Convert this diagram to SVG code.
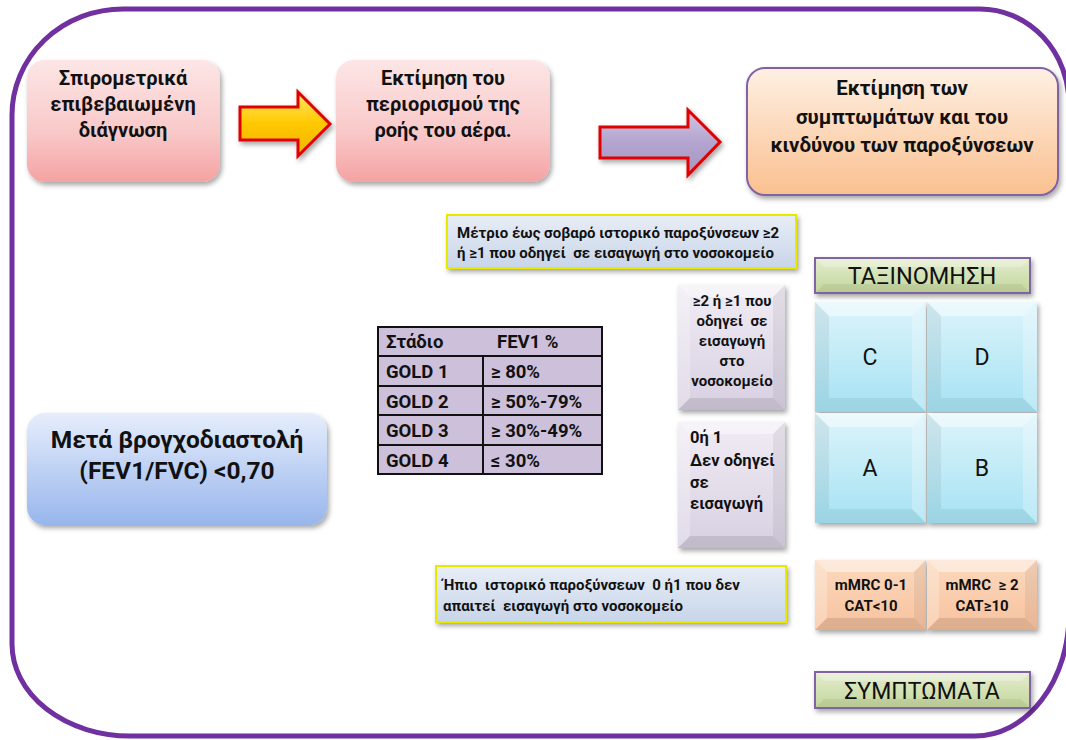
<svg xmlns="http://www.w3.org/2000/svg" width="1066" height="740" viewBox="0 0 1066 740">
<defs>
<style>
.t{font-family:Roboto,"Noto Sans","DejaVu Sans",sans-serif;fill:#111;white-space:pre}
.b{font-weight:bold}
.c{text-anchor:middle}
.lt{fill:#fff;opacity:.45}
.lt2{fill:#fff;opacity:.25}
.dk{fill:#000;opacity:.06}
.dk2{fill:#000;opacity:.1}
.cell{fill:#CCC0DA;stroke:#111;stroke-width:2}
</style>
<filter id="sh" x="-10%" y="-10%" width="125%" height="130%"><feDropShadow dx="2" dy="3" stdDeviation="2.5" flood-color="#000" flood-opacity="0.35"/></filter>
<linearGradient id="gPink" x1="0" y1="0" x2="0" y2="1"><stop offset="0" stop-color="#FDE6E6"/><stop offset="0.6" stop-color="#F9C8C8"/><stop offset="1" stop-color="#F5A2A2"/></linearGradient>
<linearGradient id="gPeach" x1="0" y1="0" x2="0" y2="1"><stop offset="0" stop-color="#FEF0E4"/><stop offset="1" stop-color="#FAC08F"/></linearGradient>
<linearGradient id="gBlue" x1="0" y1="0" x2="0" y2="1"><stop offset="0" stop-color="#E6EEFC"/><stop offset="1" stop-color="#98B6EC"/></linearGradient>
<linearGradient id="gInfo" x1="0" y1="0" x2="0" y2="1"><stop offset="0" stop-color="#E8EEF6"/><stop offset="1" stop-color="#C8D5E9"/></linearGradient>
<linearGradient id="gLav" x1="0" y1="0" x2="0" y2="1"><stop offset="0" stop-color="#F0ECF4"/><stop offset="1" stop-color="#D8D0E2"/></linearGradient>
<linearGradient id="gCyan" x1="0" y1="0" x2="0" y2="1"><stop offset="0" stop-color="#DDF4FB"/><stop offset="1" stop-color="#A6E2F2"/></linearGradient>
<linearGradient id="gGreen" x1="0" y1="0" x2="0" y2="1"><stop offset="0" stop-color="#E4EDCF"/><stop offset="1" stop-color="#C3D69B"/></linearGradient>
<linearGradient id="gSalmon" x1="0" y1="0" x2="0" y2="1"><stop offset="0" stop-color="#FBD9BE"/><stop offset="1" stop-color="#F8C29E"/></linearGradient>
<linearGradient id="gYel" x1="0" y1="0" x2="0" y2="1"><stop offset="0" stop-color="#FFE866"/><stop offset="0.5" stop-color="#FFC800"/><stop offset="1" stop-color="#F2B200"/></linearGradient>
<linearGradient id="gArrLav" x1="0" y1="0" x2="0" y2="1"><stop offset="0" stop-color="#CFC6E2"/><stop offset="0.5" stop-color="#B3A5CF"/><stop offset="1" stop-color="#A595C2"/></linearGradient>
</defs>
<rect width="1066" height="740" fill="#fff"/>
<path d="M 123,9 H 980 A 89 95 0 0 1 1069,104 V 614 A 94 122 0 0 1 975,736 H 130 A 118 92 0 0 1 12,644 V 115 A 111 106 0 0 1 123,9 Z" fill="none" stroke="#7030A0" stroke-width="5"/>

<g id="connectors">
<polygon points="240,107 298,107 298,92 330,124 298,156 298,140 240,140" fill="url(#gYel)" stroke="#E00000" stroke-width="3" stroke-linejoin="miter" filter="url(#sh)"/>
<polygon points="600,127 688,127 688,110 720,142 688,175 688,158 600,158" fill="url(#gArrLav)" stroke="#E00000" stroke-width="3" stroke-linejoin="miter" filter="url(#sh)"/>
</g>

<g id="n-spiro">
<rect x="27" y="60" width="193" height="122" rx="18" fill="url(#gPink)" filter="url(#sh)"/>
<text class="t b c" font-size="20" x="123" y="85">Σπιρομετρικά</text>
<text class="t b c" font-size="20" x="123" y="111">επιβεβαιωμένη</text>
<text class="t b c" font-size="20" x="123" y="137">διάγνωση</text>
</g>

<g id="n-flow">
<rect x="336" y="60" width="214" height="122" rx="18" fill="url(#gPink)" filter="url(#sh)"/>
<text class="t b c" font-size="20" x="443" y="85">Εκτίμηση του</text>
<text class="t b c" font-size="20" x="443" y="111">περιορισμού της</text>
<text class="t b c" font-size="20" x="443" y="137">ροής του αέρα.</text>
</g>

<g id="n-symptoms">
<rect x="747" y="68" width="311" height="127" rx="18" fill="url(#gPeach)" stroke="#8064A2" stroke-width="2" filter="url(#sh)"/>
<text class="t b c" font-size="20.5" x="902" y="95">Εκτίμηση των</text>
<text class="t b c" font-size="20.5" x="902" y="124">συμπτωμάτων και του</text>
<text class="t b c" font-size="20.5" x="902" y="152">κινδύνου των παροξύνσεων</text>
</g>

<g id="n-severe">
<rect x="447" y="215" width="349" height="53" fill="url(#gInfo)" stroke="#E8E800" stroke-width="2" filter="url(#sh)"/>
<text class="t b" font-size="15" x="457" y="238">Μέτριο έως σοβαρό ιστορικό παροξύνσεων ≥2</text>
<text class="t b" font-size="15" x="457" y="258">ή ≥1 που οδηγεί  σε εισαγωγή στο νοσοκομείο</text>
</g>

<g id="n-taxinomisi">
<rect x="815" y="258" width="215" height="35" fill="url(#gGreen)" stroke="#8064A2" stroke-width="2" filter="url(#sh)"/>
<polygon points="816,259 1029,259 1021,267 824,267" class="lt2"/>
<polygon points="816,292 1029,292 1021,284 824,284" class="dk"/>
<text class="t c" font-size="23.5" x="922" y="284">ΤΑΞΙΝΟΜΗΣΗ</text>
</g>

<g id="n-table">
<rect class="cell" x="378" y="327" width="224" height="29"/>
<rect class="cell" x="378" y="356" width="105" height="30"/><rect class="cell" x="483" y="356" width="119" height="30"/>
<rect class="cell" x="378" y="386" width="105" height="29"/><rect class="cell" x="483" y="386" width="119" height="29"/>
<rect class="cell" x="378" y="415" width="105" height="30"/><rect class="cell" x="483" y="415" width="119" height="30"/>
<rect class="cell" x="378" y="445" width="105" height="29"/><rect class="cell" x="483" y="445" width="119" height="29"/>
<text class="t b" font-size="18.5" x="386" y="348">Στάδιο</text>
<text class="t b" font-size="18.5" x="497" y="348">FEV1 %</text>
<text class="t b" font-size="18.5" x="386" y="378">GOLD 1</text><text class="t b" font-size="18.5" x="491" y="378">≥ 80%</text>
<text class="t b" font-size="18.5" x="386" y="408">GOLD 2</text><text class="t b" font-size="18.5" x="491" y="408">≥ 50%-79%</text>
<text class="t b" font-size="18.5" x="386" y="437">GOLD 3</text><text class="t b" font-size="18.5" x="491" y="437">≥ 30%-49%</text>
<text class="t b" font-size="18.5" x="386" y="467">GOLD 4</text><text class="t b" font-size="18.5" x="491" y="467">≤ 30%</text>
</g>

<g id="n-hosp">
<rect x="678" y="285" width="107" height="125" fill="url(#gLav)" filter="url(#sh)"/>
<polygon points="678,285 785,285 773,297 690,297" class="lt"/>
<polygon points="678,285 690,297 690,398 678,410" class="lt2"/>
<polygon points="785,285 773,297 773,398 785,410" class="dk"/>
<polygon points="678,410 785,410 773,398 690,398" class="dk2"/>
<text class="t b c" font-size="15" x="732" y="306">≥2 ή ≥1 που</text>
<text class="t b c" font-size="15" x="732" y="326">οδηγεί  σε</text>
<text class="t b c" font-size="15" x="732" y="346">εισαγωγή</text>
<text class="t b c" font-size="15" x="732" y="366">στο</text>
<text class="t b c" font-size="15" x="732" y="386">νοσοκομείο</text>
</g>

<g id="n-nohosp">
<rect x="678" y="422" width="107" height="126" fill="url(#gLav)" filter="url(#sh)"/>
<polygon points="678,422 785,422 773,434 690,434" class="lt"/>
<polygon points="678,422 690,434 690,536 678,548" class="lt2"/>
<polygon points="785,422 773,434 773,536 785,548" class="dk"/>
<polygon points="678,548 785,548 773,536 690,536" class="dk2"/>
<text class="t b" font-size="16.5" x="690" y="443">0ή 1</text>
<text class="t b" font-size="16.5" x="690" y="466">Δεν οδηγεί</text>
<text class="t b" font-size="16.5" x="690" y="488">σε</text>
<text class="t b" font-size="16.5" x="690" y="509">εισαγωγή</text>
</g>

<g id="n-C">
<rect x="815" y="302" width="111" height="110" fill="url(#gCyan)" filter="url(#sh)"/>
<polygon points="815,302 926,302 912,316 829,316" class="lt"/>
<polygon points="815,302 829,316 829,398 815,412" class="dk"/>
<polygon points="926,302 912,316 912,398 926,412" class="lt2"/>
<polygon points="815,412 926,412 912,398 829,398" class="dk"/>
<text class="t c" font-size="23" x="870" y="365">C</text>
</g>
<g id="n-D">
<rect x="927" y="302" width="110" height="110" fill="url(#gCyan)" filter="url(#sh)"/>
<polygon points="927,302 1037,302 1023,316 941,316" class="lt"/>
<polygon points="927,302 941,316 941,398 927,412" class="dk"/>
<polygon points="1037,302 1023,316 1023,398 1037,412" class="lt2"/>
<polygon points="927,412 1037,412 1023,398 941,398" class="dk"/>
<text class="t c" font-size="23" x="982" y="365">D</text>
</g>
<g id="n-A">
<rect x="815" y="413" width="111" height="110" fill="url(#gCyan)" filter="url(#sh)"/>
<polygon points="815,413 926,413 912,427 829,427" class="lt"/>
<polygon points="815,413 829,427 829,509 815,523" class="dk"/>
<polygon points="926,413 912,427 912,509 926,523" class="lt2"/>
<polygon points="815,523 926,523 912,509 829,509" class="dk"/>
<text class="t c" font-size="23" x="870" y="476">A</text>
</g>
<g id="n-B">
<rect x="927" y="413" width="110" height="110" fill="url(#gCyan)" filter="url(#sh)"/>
<polygon points="927,413 1037,413 1023,427 941,427" class="lt"/>
<polygon points="927,413 941,427 941,509 927,523" class="dk"/>
<polygon points="1037,413 1023,427 1023,509 1037,523" class="lt2"/>
<polygon points="927,523 1037,523 1023,509 941,509" class="dk"/>
<text class="t c" font-size="23" x="982" y="476">B</text>
</g>

<g id="n-post">
<rect x="27" y="413" width="300" height="112" rx="18" fill="url(#gBlue)" filter="url(#sh)"/>
<text class="t b c" font-size="24.5" x="177" y="448">Μετά βρογχοδιαστολή</text>
<text class="t b c" font-size="24.5" x="177" y="479">(FEV1/FVC) &lt;0,70</text>
</g>

<g id="n-mild">
<rect x="436" y="566" width="350" height="56" fill="url(#gInfo)" stroke="#E8E800" stroke-width="2" filter="url(#sh)"/>
<text class="t b" font-size="15" x="443" y="590">Ήπιο  ιστορικό παροξύνσεων  0 ή1 που δεν</text>
<text class="t b" font-size="15" x="443" y="611">απαιτεί  εισαγωγή στο νοσοκομείο</text>
</g>

<g id="n-mmrc1">
<rect x="815" y="560" width="111" height="70" fill="url(#gSalmon)" filter="url(#sh)"/>
<polygon points="815,560 926,560 914,572 827,572" class="lt"/>
<polygon points="815,560 827,572 827,618 815,630" class="lt2"/>
<polygon points="926,560 914,572 914,618 926,630" class="dk"/>
<polygon points="815,630 926,630 914,618 827,618" class="dk2"/>
<text class="t b c" font-size="15" x="871" y="590">mMRC 0-1</text>
<text class="t b c" font-size="15" x="871" y="611">CAT&lt;10</text>
</g>
<g id="n-mmrc2">
<rect x="927" y="560" width="110" height="70" fill="url(#gSalmon)" filter="url(#sh)"/>
<polygon points="927,560 1037,560 1025,572 939,572" class="lt"/>
<polygon points="927,560 939,572 939,618 927,630" class="lt2"/>
<polygon points="1037,560 1025,572 1025,618 1037,630" class="dk"/>
<polygon points="927,630 1037,630 1025,618 939,618" class="dk2"/>
<text class="t b c" font-size="15" x="982" y="590">mMRC  ≥ 2</text>
<text class="t b c" font-size="15" x="982" y="611">CAT≥10</text>
</g>

<g id="n-symptomata">
<rect x="815" y="672" width="215" height="36" fill="url(#gGreen)" stroke="#8064A2" stroke-width="2" filter="url(#sh)"/>
<polygon points="816,673 1029,673 1021,681 824,681" class="lt2"/>
<polygon points="816,707 1029,707 1021,699 824,699" class="dk"/>
<text class="t c" font-size="23" x="922" y="699">ΣΥΜΠΤΩΜΑΤΑ</text>
</g>
</svg>
